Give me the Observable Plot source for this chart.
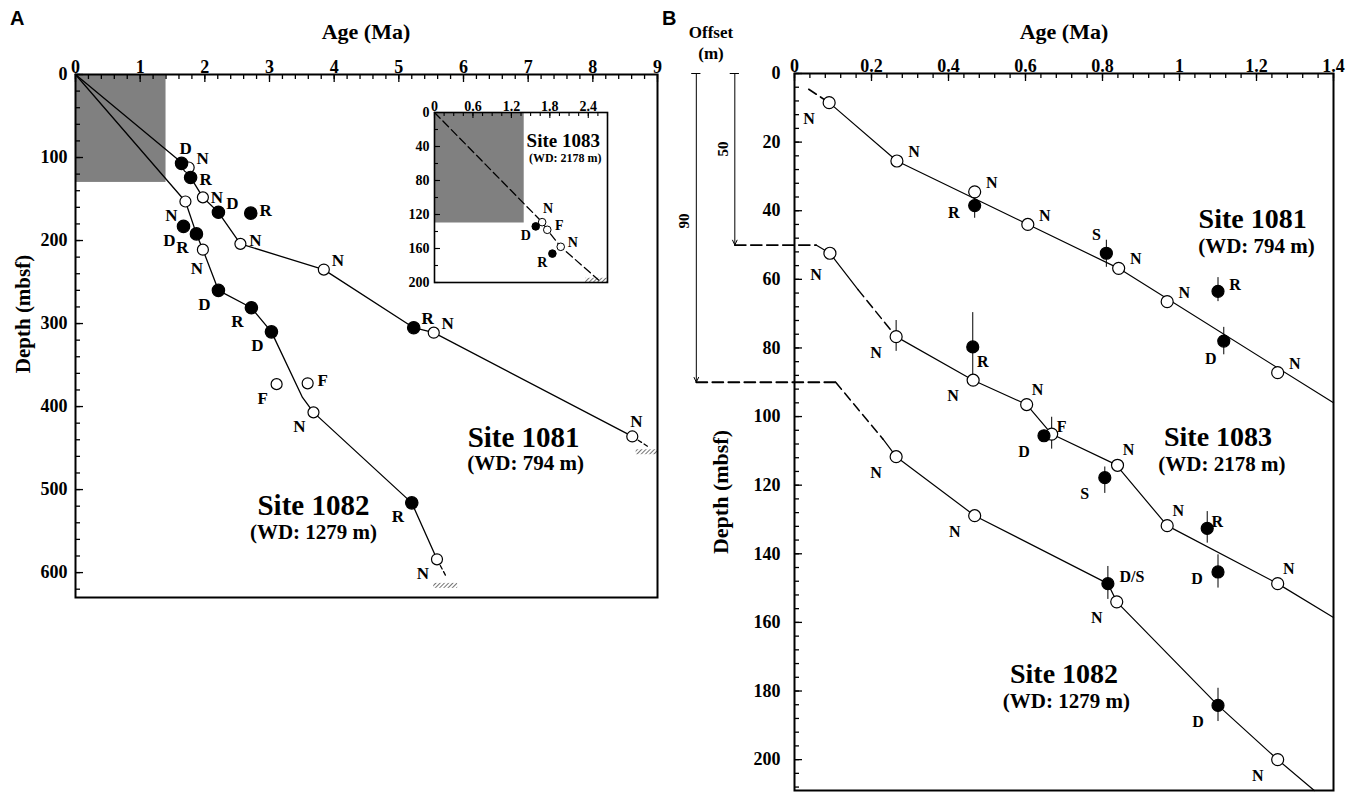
<!DOCTYPE html>
<html>
<head>
<meta charset="utf-8">
<script src="https://cdn.jsdelivr.net/npm/d3@7"></script>
<script src="https://cdn.jsdelivr.net/npm/@observablehq/plot@0.6"></script>
<style>
html,body{margin:0;padding:0;background:#fff;}
#page{position:relative;width:1359px;height:795px;overflow:hidden;font-family:'Liberation Serif','Times New Roman',Times,serif;}
.box{position:absolute;}
.box svg{display:block;max-width:none;}
.t{position:absolute;font-weight:bold;white-space:nowrap;transform:translate(-50%,-50%);color:#000;line-height:1;}
.pl{position:absolute;font-family:'Liberation Sans',Arial,sans-serif;font-weight:bold;font-size:20px;line-height:1;}
</style>
</head>
<body>
<div id="page"></div>
<script>
const SERIF = "'Liberation Serif','Times New Roman',Times,serif";

// ================= DATA =================
// ---- Panel A : age–depth, Sites 1081 and 1082 (0–9 Ma) ----
const aAgeTicks   = [0,1,2,3,4,5,6,7,8,9];
const aDepthTicks = [0,100,200,300,400,500,600];
const shadeAge    = [0, 1.4];     // grey box = range of the inset
const shadeDepth  = [0, 130];

const a81Age   = [1.64,1.75,1.78,1.97,2.21,2.71,2.55,3.84,5.23,5.54,8.61];
const a81Depth = [107,112,124,148,166,167,204,235,305,311,436];
const a81Kind  = ["f","o","f","o","f","f","o","o","f","o","o"];
const a81Code  = ["D","N","R","N","D","R","N","N","R","N","N"];
const a81LineAge   = [0,1.70,1.78,1.97,2.21,2.55,3.84,5.23,5.54,8.61];
const a81LineDepth = [0,110,124,148,166,204,235,305,311,436];
const a81TailAge   = [8.61,8.85];
const a81TailDepth = [436,448];
const a81HoleAge   = [8.67,9.0];
const a81HoleDepth = [452,458];

const a82Age   = [1.70,1.67,1.87,1.97,2.21,2.72,3.03,3.11,3.59,3.68,5.20,5.59];
const a82Depth = [153,183,192,211,260,281,310,373,372,407,516,584];
const a82Kind  = ["o","f","f","o","f","f","f","o","o","o","f","o"];
const a82Code  = ["N","D","R","N","D","R","D","F","F","N","R","N"];
const a82LineAge   = [0,1.70,1.87,1.97,2.21,2.72,3.03,3.51,3.68,5.20,5.59];
const a82LineDepth = [0,153,192,211,260,281,310,389,407,516,584];
const a82TailAge   = [5.59,5.72];
const a82TailDepth = [584,603];
const a82HoleAge   = [5.54,5.91];
const a82HoleDepth = [613,619];

// ---- Inset : Site 1083 (0–2.7 Ma) ----
const inAgeTicks   = [0,0.6,1.2,1.8,2.4];
const inDepthTicks = [0,40,80,120,160,200];
const in83Age   = [1.68,1.76,1.97,1.58,1.84];
const in83Depth = [129,138,158,134,166];
const in83Kind  = ["o","o","o","f","f"];
const in83Code  = ["N","F","N","D","R"];
const in83LineAge   = [0,1.68,1.76,1.97,2.56];
const in83LineDepth = [0,129,138,158,197];
const in83HoleAge   = [2.36,2.70];
const in83HoleDepth = [195,200];

// ---- Panel B : 0–1.4 Ma, three sites with depth offsets ----
const bAgeTicks   = [0,0.2,0.4,0.6,0.8,1,1.2,1.4];
const bDepthTicks = [0,20,40,60,80,100,120,140,160,180,200];
const offsets     = [50,90];            // offset of Site 1083 and Site 1082 (m)

const b81Age   = [0.09,0.266,0.468,0.468,0.606,0.81,0.842,0.968,1.10,1.115,1.255];
const b81Depth = [8.5,25.5,34.5,38.5,44,52.4,56.8,66.5,63.5,78,87.2];
const b81Kind  = ["o","o","o","f","o","f","o","o","f","f","o"];
const b81Code  = ["N","N","N","R","N","S","N","N","R","D","N"];
const b81Lo    = [null,null,null,36.3,null,48.6,null,null,59.5,74,null];
const b81Hi    = [null,null,null,42.2,null,56.5,null,null,66.5,82,null];
const b81DashAge   = [0.037,0.09];
const b81DashDepth = [4.6,8.5];
const b81LineAge   = [0.09,0.266,0.842,1.4];
const b81LineDepth = [8.5,25.5,56.8,96];

const b83Age   = [0.092,0.264,0.463,0.464,0.603,0.648,0.668,0.839,0.806,0.968,1.072,1.10,1.255];
const b83Depth = [52.4,76.7,79.7,89.4,96.5,105.6,105.1,114.2,117.8,131.8,132.6,145.3,148.7];
const b83Kind  = ["o","o","f","o","o","f","o","o","f","o","f","f","o"];
const b83Code  = ["N","N","R","N","N","D","F","N","S","N","R","D","N"];
const b83Lo    = [null,72,69.7,null,null,null,100.2,null,114.7,null,127.7,140.3,null];
const b83Hi    = [null,81,89.4,null,null,null,109.5,null,122.4,null,136.9,150,null];
const b83LeadAge   = [0.056,0.092,0.165];
const b83LeadDepth = [50,52.4,63];
const b83DashAge   = [0.165,0.264];
const b83DashDepth = [63,76.7];
const b83LineAge   = [0.264,0.464,0.603,0.668,0.835,0.968,1.255,1.4];
const b83LineDepth = [76.7,89.4,96.5,105.1,114,131.8,148.7,158.6];

const b82Age   = [0.264,0.468,0.814,0.837,1.10,1.255];
const b82Depth = [111.7,128.9,148.7,154,184.2,200];
const b82Kind  = ["o","o","f","o","f","o"];
const b82Code  = ["N","N","D/S","N","D","N"];
const b82Lo    = [null,null,143.7,null,179.2,null];
const b82Hi    = [null,null,153.3,null,188.9,null];
const b82DashAge   = [0.107,0.23];
const b82DashDepth = [90,106.6];
const b82LineAge   = [0.23,0.264,0.468,0.814,0.837,1.10,1.255,1.35];
const b82LineDepth = [106.6,111.7,128.9,148.7,154,184.2,200,209];

// ================= LAYOUT (label placement, not data) =================
const a81Place = ["n","ne","e3","e2","ne","e","e","ne","ne","ne","n"];
const a82Place = ["sw","sw","sw","s","sw","sw","sw","sw","e","sw","sw","sw"];
const in83Place = ["n","e","e","sw","sw"];
const b81Place = ["sw","ne","ne","w","ne","nw","ne","ne","e","s2","ne"];
const b83Place = ["sw2","sw","se","sw","n2","sw","f","n2","sw","n2","f","w","n2"];
const b82Place = ["sw","sw","e2","sw","sw","sw"];
const offA  = {n:[4,-15], ne:[14,-9], e:[15,-3], e2:[14,0], e3:[15,2], s:[-6,19], sw:[-14,14]};
const offIn = {n:[6,-14], e:[12,-4], sw:[-10,9]};
const offB  = {ne:[17,-9], sw:[-20,16], sw2:[-14,22], w:[-21,7], nw:[-10,-18], e:[17,-6],
               e2:[24,-7], se:[10,15], s2:[-13,18], n2:[11,-15], f:[10,-7]};
const arrowX = [-0.155,-0.255];     // horizontal position of the offset arrows (age units, left of frame)

const LA = {left:0,   top:0,  width:680, height:640, ml:75,  mr:23, mt:74, mb:43};
const LI = {left:394, top:82, width:223, height:208, ml:40,  mr:10, mt:30, mb:8};
const LB = {left:660, top:0,  width:699, height:795, ml:134, mr:26, mt:73, mb:5};

// ================= HELPERS =================
const page = document.getElementById("page");
const pts = (age, depth, kind, code, place, lo, hi) =>
  age.map((a, i) => ({age: a, depth: depth[i], kind: kind[i], code: code[i], place: place[i],
                      lo: lo ? lo[i] : null, hi: hi ? hi[i] : null}));
const path = (age, depth) => age.map((a, i) => ({age: a, depth: depth[i]}));
const rng = (a, b, s) => d3.range(0, Math.round((b - a) / s) + 1).map(i => +(a + i * s).toFixed(4));

function base(L, xd, yd) {
  return {width: L.width, height: L.height, marginLeft: L.ml, marginRight: L.mr, marginTop: L.mt, marginBottom: L.mb,
    x: {domain: xd, axis: null}, y: {domain: yd, reverse: true, axis: null},
    style: {background: "transparent", overflow: "visible", maxWidth: "none", fontFamily: SERIF}};
}
function ticks(L, xMaj, xMin, yMaj, yMin, majLen, minLen, sw, fs, xdy, ydx, fmt) {
  const iw = L.width - L.ml - L.mr, ih = L.height - L.mt - L.mb;
  const tx = {fontSize: fs, fontWeight: "bold", fontFamily: SERIF, fill: "black"};
  return [
    Plot.ruleX(xMin, {x: d => d, insetBottom: ih - minLen, stroke: "black", strokeWidth: sw}),
    Plot.ruleX(xMaj, {x: d => d, insetBottom: ih - majLen, stroke: "black", strokeWidth: sw}),
    Plot.ruleY(yMin, {y: d => d, insetRight: iw - minLen, stroke: "black", strokeWidth: sw}),
    Plot.ruleY(yMaj, {y: d => d, insetRight: iw - majLen, stroke: "black", strokeWidth: sw}),
    Plot.text(xMaj, {x: d => d, frameAnchor: "top", dy: xdy, text: fmt, ...tx}),
    Plot.text(yMaj, {y: d => d, frameAnchor: "left", dx: ydx, textAnchor: "end", text: fmt, ...tx})
  ];
}
function symbols(P, offs, rO, rF, fs, sw) {
  const marks = [
    Plot.dot(P.filter(p => p.kind === "o"), {x: "age", y: "depth", r: rO, fill: "white", stroke: "black", strokeWidth: sw}),
    Plot.dot(P.filter(p => p.kind === "f"), {x: "age", y: "depth", r: rF, fill: "black", stroke: "black", strokeWidth: sw})
  ];
  for (const [k, [dx, dy]] of Object.entries(offs)) {
    const sub = P.filter(p => p.place === k);
    if (sub.length) marks.push(Plot.text(sub, {x: "age", y: "depth", text: "code", dx, dy,
      fontSize: fs, fontWeight: "bold", fontFamily: SERIF, fill: "black"}));
  }
  return marks;
}
function errBars(P, sw) {
  return Plot.ruleX(P.filter(p => p.lo != null), {x: "age", y1: "lo", y2: "hi", stroke: "black", strokeWidth: sw});
}
function hatch(svg, id) {
  const ns = "http://www.w3.org/2000/svg";
  const defs = document.createElementNS(ns, "defs");
  const pat = document.createElementNS(ns, "pattern");
  pat.setAttribute("id", id); pat.setAttribute("patternUnits", "userSpaceOnUse");
  pat.setAttribute("width", "3"); pat.setAttribute("height", "3");
  pat.setAttribute("patternTransform", "rotate(45)");
  const ln = document.createElementNS(ns, "line");
  ln.setAttribute("x1", "0"); ln.setAttribute("y1", "0"); ln.setAttribute("x2", "0"); ln.setAttribute("y2", "3");
  ln.setAttribute("stroke", "black"); ln.setAttribute("stroke-width", "1.1");
  pat.appendChild(ln); defs.appendChild(pat); svg.insertBefore(defs, svg.firstChild);
}
function mount(svg, L) {
  const d = document.createElement("div");
  d.className = "box";
  Object.assign(d.style, {left: L.left + "px", top: L.top + "px", width: L.width + "px", height: L.height + "px"});
  d.appendChild(svg); page.appendChild(d);
}
function htext(txt, x, y, size, rot, cls) {
  const d = document.createElement("div");
  d.className = cls || "t";
  d.textContent = txt;
  d.style.left = x + "px"; d.style.top = y + "px"; d.style.fontSize = size + "px";
  if (rot) d.style.transform = "translate(-50%,-50%) rotate(" + rot + "deg)";
  page.appendChild(d);
}
const lineSty = (w, dash) => ({x: "age", y: "depth", stroke: "black", strokeWidth: w, strokeDasharray: dash || null, curve: "linear"});
const fmtNum = d => String(d);
const bigT = (size) => ({fontSize: size, fontWeight: "bold", fontFamily: SERIF, fill: "black"});

// ================= PANEL A =================
const A81 = pts(a81Age, a81Depth, a81Kind, a81Code, a81Place);
const A82 = pts(a82Age, a82Depth, a82Kind, a82Code, a82Place);
const svgA = Plot.plot({
  ...base(LA, [0, 9], [0, 630]),
  marks: [
    Plot.rect([{}], {x1: shadeAge[0], x2: shadeAge[1], y1: shadeDepth[0], y2: shadeDepth[1], fill: "#808080"}),
    Plot.rect([{a0: a81HoleAge[0], a1: a81HoleAge[1], d0: a81HoleDepth[0], d1: a81HoleDepth[1]},
               {a0: a82HoleAge[0], a1: a82HoleAge[1], d0: a82HoleDepth[0], d1: a82HoleDepth[1]}],
              {x1: "a0", x2: "a1", y1: "d0", y2: "d1", fill: "url(#hatchA)"}),
    ...ticks(LA, aAgeTicks, rng(0, 9, 0.2), aDepthTicks, rng(0, 620, 20), 8, 5, 1.3, 18, -14, -8, fmtNum),
    Plot.line(path(a81LineAge, a81LineDepth), lineSty(1.3)),
    Plot.line(path(a82LineAge, a82LineDepth), lineSty(1.3)),
    Plot.line(path(a81TailAge, a81TailDepth), lineSty(1.3, "4,3")),
    Plot.line(path(a82TailAge, a82TailDepth), lineSty(1.3, "4,3")),
    ...symbols(A81, offA, 5.5, 6.2, 17, 1.2),
    ...symbols(A82, offA, 5.5, 6.2, 17, 1.2),
    Plot.text(["Site 1081"], {x: 6.93, y: 437, text: d => d, ...bigT(29)}),
    Plot.text(["(WD: 794 m)"], {x: 6.96, y: 468, text: d => d, ...bigT(21)}),
    Plot.text(["Site 1082"], {x: 3.68, y: 520, text: d => d, ...bigT(29)}),
    Plot.text(["(WD: 1279 m)"], {x: 3.68, y: 552, text: d => d, ...bigT(21)}),
    Plot.frame({stroke: "black", strokeWidth: 2})
  ]
});
hatch(svgA, "hatchA");
mount(svgA, LA);

// ================= INSET =================
const I83 = pts(in83Age, in83Depth, in83Kind, in83Code, in83Place);
const svgI = Plot.plot({
  ...base(LI, [0, 2.7], [0, 200]),
  marks: [
    Plot.frame({fill: "white", stroke: "none"}),
    Plot.rect([{}], {x1: shadeAge[0], x2: shadeAge[1], y1: shadeDepth[0], y2: shadeDepth[1], fill: "#808080"}),
    Plot.rect([{}], {x1: in83HoleAge[0], x2: in83HoleAge[1], y1: in83HoleDepth[0], y2: in83HoleDepth[1], fill: "url(#hatchI)"}),
    ...ticks(LI, inAgeTicks, rng(0, 2.7, 0.15), inDepthTicks, rng(0, 200, 20), 6, 4, 1.1, 14, -11, -5, fmtNum),
    Plot.line(path(in83LineAge, in83LineDepth), lineSty(1.3, "8,4")),
    ...symbols(I83, offIn, 3.8, 3.8, 14, 1),
    Plot.text(["Site 1083"], {x: 2.01, y: 33, text: d => d, ...bigT(19)}),
    Plot.text(["(WD: 2178 m)"], {x: 2.04, y: 54, text: d => d, ...bigT(12)}),
    Plot.frame({stroke: "black", strokeWidth: 1.6})
  ]
});
hatch(svgI, "hatchI");
mount(svgI, LI);

// ================= PANEL B =================
const B81 = pts(b81Age, b81Depth, b81Kind, b81Code, b81Place, b81Lo, b81Hi);
const B83 = pts(b83Age, b83Depth, b83Kind, b83Code, b83Place, b83Lo, b83Hi);
const B82 = pts(b82Age, b82Depth, b82Kind, b82Code, b82Place, b82Lo, b82Hi);
const arrows = offsets.map((o, i) => ({x: arrowX[i], d0: 0, d1: o}));
const connectors = [
  [{age: arrowX[0], depth: offsets[0]}, {age: b83LeadAge[0], depth: offsets[0]}],
  [{age: arrowX[1], depth: offsets[1]}, {age: b82DashAge[0], depth: offsets[1]}]
];
const svgB = Plot.plot({
  ...base(LB, [0, 1.4], [0, 209]),
  marks: [
    ...ticks(LB, bAgeTicks, rng(0, 1.4, 0.04), bDepthTicks, rng(0, 208, 4), 8, 5, 1.3, 18, -14, -14, fmtNum),
    // offset arrows
    Plot.arrow(arrows, {x1: "x", x2: "x", y1: "d0", y2: "d1", stroke: "black", strokeWidth: 1, headLength: 8, headAngle: 50}),
    Plot.ruleY(arrows, {y: "d0", x1: d => d.x - 0.012, x2: d => d.x + 0.012, stroke: "black", strokeWidth: 1}),
    Plot.text(["50"], {x: -0.184, y: 22, text: d => d, rotate: -90, ...bigT(15)}),
    Plot.text(["90"], {x: -0.286, y: 43, text: d => d, rotate: -90, ...bigT(15)}),
    ...connectors.map(c => Plot.line(c, lineSty(1.8, "11,5"))),
    // Site 1081
    Plot.line(path(b81DashAge, b81DashDepth), lineSty(1.6, "9,5")),
    Plot.line(path(b81LineAge, b81LineDepth), lineSty(1.2)),
    // Site 1083
    Plot.line(path(b83LeadAge, b83LeadDepth), lineSty(1.2)),
    Plot.line(path(b83DashAge, b83DashDepth), lineSty(1.5, "9,5")),
    Plot.line(path(b83LineAge, b83LineDepth), lineSty(1.2)),
    // Site 1082
    Plot.line(path(b82DashAge, b82DashDepth), lineSty(1.5, "9,5")),
    Plot.line(path(b82LineAge, b82LineDepth), lineSty(1.2)),
    errBars(B81, 1), errBars(B83, 1), errBars(B82, 1),
    ...symbols(B81, offB, 6, 6, 16, 1.2),
    ...symbols(B83, offB, 6, 6, 16, 1.2),
    ...symbols(B82, offB, 6, 6, 16, 1.2),
    Plot.text(["Site 1081"], {x: 1.19, y: 42.3, text: d => d, ...bigT(28)}),
    Plot.text(["(WD: 794 m)"], {x: 1.20, y: 50.3, text: d => d, ...bigT(21)}),
    Plot.text(["Site 1083"], {x: 1.10, y: 106, text: d => d, ...bigT(28)}),
    Plot.text(["(WD: 2178 m)"], {x: 1.11, y: 114, text: d => d, ...bigT(21)}),
    Plot.text(["Site 1082"], {x: 0.70, y: 175, text: d => d, ...bigT(28)}),
    Plot.text(["(WD: 1279 m)"], {x: 0.706, y: 183, text: d => d, ...bigT(21)}),
    Plot.frame({stroke: "black", strokeWidth: 2})
  ]
});
mount(svgB, LB);

// ================= TITLES (HTML text) =================
htext("Age (Ma)", 366, 32, 22);
htext("Age (Ma)", 1064, 32, 22);
htext("Depth (mbsf)", 23, 314, 21, -90);
htext("Depth (mbsf)", 721, 492, 22, -90);
htext("Offset", 711, 32, 17);
htext("(m)", 711, 53, 17);
const pa = document.createElement("div"); pa.className = "pl"; pa.textContent = "A";
Object.assign(pa.style, {left: "10px", top: "8px"}); page.appendChild(pa);
const pb = document.createElement("div"); pb.className = "pl"; pb.textContent = "B";
Object.assign(pb.style, {left: "662px", top: "8px"}); page.appendChild(pb);
</script>
</body>
</html>
